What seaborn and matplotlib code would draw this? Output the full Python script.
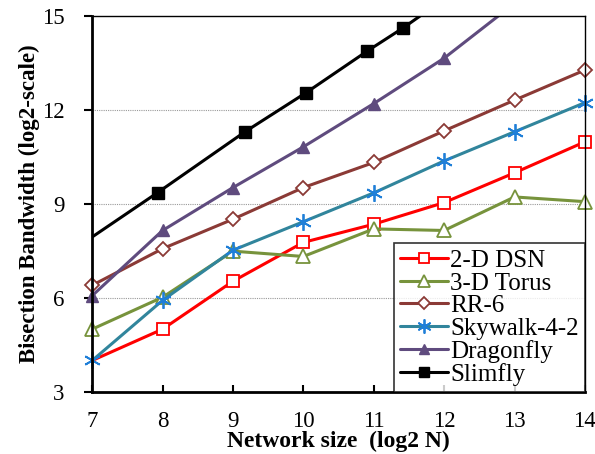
import matplotlib
matplotlib.use("Agg")
import matplotlib.pyplot as plt
import matplotlib.patches as mpatches
import seaborn as sns
import pandas as pd

sizes = [7, 8, 9, 10, 11, 12, 13, 14]
dsn_2d = [4.0, 5.0, 6.53, 7.77, 8.35, 9.04, 9.99, 10.98]
torus_3d = [5.0, 6.02, 7.49, 7.32, 8.2, 8.15, 9.22, 9.07]
rr6 = [6.40, 7.57, 8.51, 9.52, 10.32, 11.33, 12.31, 13.27]
skywalk = [4.0, 5.92, 7.52, 8.43, 9.35, 10.37, 11.30, 12.23]
dragonfly_x = [7, 8, 9, 10, 11, 12, 13]
dragonfly = [6.07, 8.15, 9.52, 10.82, 12.2, 13.65, 15.4]
slimfly_x = [6.61, 7.93, 9.17, 10.04, 10.91, 11.42, 11.85]
slimfly = [7.35, 9.36, 11.30, 12.55, 13.88, 14.62, 15.3]

series = [
    ("2-D DSN", sizes, dsn_2d),
    ("3-D Torus", sizes, torus_3d),
    ("RR-6", sizes, rr6),
    ("Skywalk-4-2", sizes, skywalk),
    ("Dragonfly", dragonfly_x, dragonfly),
    ("Slimfly", slimfly_x, slimfly),
]
rows = []
for name, xs, ys in series:
    for x, y in zip(xs, ys):
        rows.append({"Network": name, "x": x, "y": y})
df = pd.DataFrame(rows)

sns.set_theme(style="white")
plt.rcParams["font.family"] = ["Liberation Serif", "DejaVu Serif"]
for k in ["text.color", "axes.labelcolor", "xtick.color", "ytick.color"]:
    plt.rcParams[k] = "black"

fig = plt.figure(figsize=(5.95, 4.54), dpi=100)
ax = fig.add_axes([0.155, 0.137, 0.828, 0.828])

styles = {
    "2-D DSN": dict(color="#FF0000", marker="s", mfc="white", mec="#FF0000", ms=9, mew=1.3),
    "3-D Torus": dict(color="#77933C", marker="^", mfc="white", mec="#77933C", ms=10, mew=1.3),
    "RR-6": dict(color="#8B3A36", marker="D", mfc="white", mec="#8B3A36", ms=7, mew=1.3),
    "Skywalk-4-2": dict(color="#31859C", marker=(6, 2, 0), mfc="#1F7FD8", mec="#1F7FD8", ms=12, mew=1.3),
    "Dragonfly": dict(color="#5F4B7E", marker="^", mfc="#5F4B7E", mec="#5F4B7E", ms=9, mew=1.0),
    "Slimfly": dict(color="#000000", marker="s", mfc="#000000", mec="#000000", ms=8, mew=1.0),
}

for name, _, _ in series:
    sub = df[df["Network"] == name]
    st = styles[name]
    n_before = len(ax.lines)
    kw = {}
    if name == "2-D DSN":
        kw["markevery"] = list(range(1, len(sub)))
    sns.lineplot(data=sub, x="x", y="y", ax=ax, color=st["color"], lw=2.2,
                 marker=st["marker"], markersize=st["ms"], markerfacecolor=st["mfc"],
                 markeredgecolor=st["mec"], markeredgewidth=st["mew"], label=name,
                 sort=False, **kw)
    if name != "Slimfly":
        for ln in ax.lines[n_before:]:
            clip = mpatches.Rectangle((-0.05, -0.05), 1.1, 1.05, transform=ax.transAxes,
                                      fill=False, visible=False)
            ax.add_patch(clip)
            ln.set_clip_path(clip)

ax.set_xlim(7, 14)
ax.set_ylim(3, 15)
ax.set_xticks(range(7, 15))
ax.set_yticks([3, 6, 9, 12, 15])
ax.tick_params(axis="x", direction="in", length=5, width=1.5, labelsize=16.5, pad=14, bottom=True)
ax.tick_params(axis="y", direction="out", length=6, width=1.5, labelsize=16.5, pad=14, left=True)
for y in [6, 9, 12]:
    ax.axhline(y, color="#999999", lw=0.8, ls=(0, (1, 1)), zorder=0)

for s in ["left", "bottom"]:
    ax.spines[s].set_linewidth(2.0)
    ax.spines[s].set_color("black")
for s in ["top", "right"]:
    ax.spines[s].set_linewidth(1.0)
    ax.spines[s].set_color("black")

ax.set_xlabel("Network size  (log2 N)", fontsize=17, fontweight="bold", labelpad=-1)
ax.set_ylabel("Bisection Bandwidth (log2-scale)", fontsize=16.5, fontweight="bold", labelpad=1)

leg = ax.legend(loc="lower right", fontsize=18, frameon=True, fancybox=False,
                edgecolor="black", borderpad=0.25, labelspacing=0.0, handlelength=1.9,
                handletextpad=0.1, borderaxespad=0.0, markerscale=0.85)
leg.get_frame().set_linewidth(1.2)
leg.set_zorder(5)

fig.savefig("out.png", dpi=100)
